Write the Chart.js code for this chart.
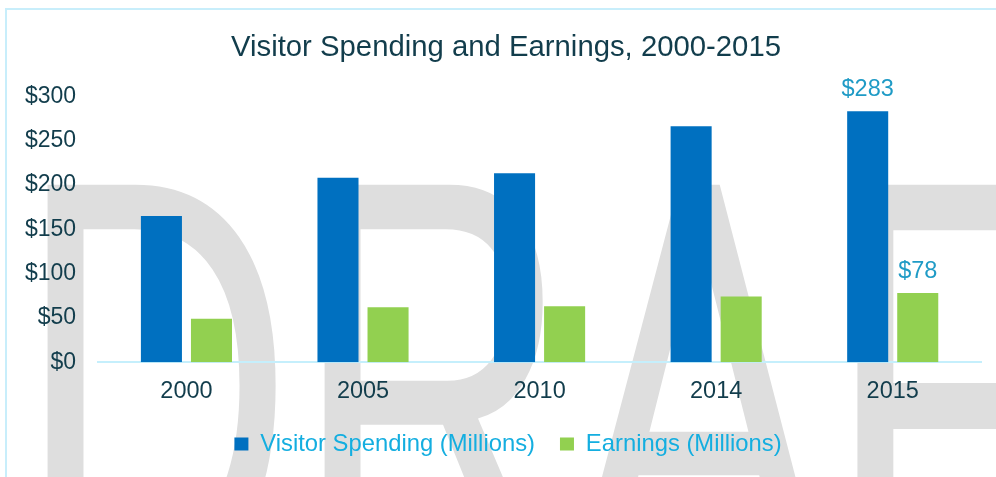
<!DOCTYPE html>
<html>
<head>
<meta charset="utf-8">
<title>Visitor Spending and Earnings, 2000-2015</title>
<script src="https://cdn.jsdelivr.net/npm/chart.js@4.4.1/dist/chart.umd.min.js"></script>
<style>
    html, body { margin: 0; padding: 0; width: 996px; height: 477px; overflow: hidden; background: #fff; }
    #frame { position: absolute; left: 5px; top: 8px; width: 1200px; height: 800px; border: 2px solid #c8eefb; box-sizing: border-box; }
    #watermark {
        position: absolute; left: 16px; top: 90px;
        font-family: "Liberation Sans", Arial, sans-serif; font-size: 385px; line-height: 1;
        color: #dedede; white-space: nowrap; letter-spacing: -1px;
        transform: scaleY(1.55); transform-origin: 0 0;
    }
    #chartBox { position: absolute; left: 0; top: 0; width: 996px; height: 477px; }
</style>
</head>
<body>
<div id="frame"></div>
<div id="watermark">DRAFT</div>
<div id="chartBox"><canvas id="spendingChart" width="996" height="477"></canvas></div>
<script>
// Chart data (values in millions of dollars)
const years = ['2000', '2005', '2010', '2014', '2015'];
const visitorSpending = [165, 208, 213, 266, 283];
const earnings = [49, 62, 63, 74, 78];
const yTicks = [0, 50, 100, 150, 200, 250, 300];
// only the 2015 bars carry a value label
const labelledPoints = [4];

const FONT = '"Liberation Sans", Arial, sans-serif';
const DARK = '#123d4c';

// Draw "$value" above the labelled bars
const valueLabels = {
    id: 'valueLabels',
    afterLayout(chart) {
        // title and legend sit a little right of centre in the original
        chart.titleBlock.left += 14;
        chart.titleBlock.right += 14;
        chart.legend.left += 16;
        chart.legend.right += 16;
    },
    afterDatasetsDraw(chart) {
        const ctx = chart.ctx;
        ctx.save();
        ctx.font = '23.5px ' + FONT;
        ctx.fillStyle = '#1f9bc6';
        ctx.textAlign = 'center';
        ctx.textBaseline = 'alphabetic';
        chart.data.datasets.forEach((ds, i) => {
            const meta = chart.getDatasetMeta(i);
            labelledPoints.forEach(idx => {
                const bar = meta.data[idx];
                ctx.fillText('$' + ds.data[idx], bar.x, bar.y - 15);
            });
        });
        ctx.restore();
    }
};

const ctx = document.getElementById('spendingChart').getContext('2d');
window.spendingChart = new Chart(ctx, {
    type: 'bar',
    data: {
        labels: years,
        datasets: [{
            label: 'Visitor Spending (Millions)',
            data: visitorSpending,
            backgroundColor: '#0070c0',
            borderWidth: 0,
            categoryPercentage: 0.567,
            barPercentage: 0.82
        }, {
            label: 'Earnings (Millions)',
            data: earnings,
            backgroundColor: '#92d050',
            borderWidth: 0,
            categoryPercentage: 0.567,
            barPercentage: 0.82
        }]
    },
    options: {
        responsive: false,
        animation: false,
        layout: {
            padding: { left: 3, right: 15, top: 0, bottom: 11 }
        },
        scales: {
            x: {
                grid: { display: false, drawTicks: false },
                border: { display: true, color: '#c5effc', width: 2 },
                ticks: {
                    color: DARK,
                    font: { family: FONT, size: 23.5 },
                    padding: 15
                },
                afterFit: function(scale) {
                    // only one padding below the labels
                    scale.height = 45;
                }
            },
            y: {
                min: 0,
                max: 300,
                grid: { display: false, drawTicks: false },
                border: { display: false },
                afterBuildTicks: function(scale) {
                    scale.ticks = yTicks.map(v => ({ value: v }));
                },
                ticks: {
                    color: DARK,
                    font: { family: FONT, size: 23 },
                    padding: 22,
                    callback: function(value) {
                        return '$' + value;
                    }
                }
            }
        },
        plugins: {
            title: {
                display: true,
                text: 'Visitor Spending and Earnings, 2000-2015',
                color: DARK,
                font: { family: FONT, size: 29.3, weight: 'normal' },
                padding: { top: 30, bottom: 31 }
            },
            legend: {
                position: 'bottom',
                labels: {
                    boxWidth: 14,
                    boxHeight: 13,
                    color: '#14aee0',
                    padding: 25,
                    font: { family: FONT, size: 23.8 }
                }
            },
            tooltip: { enabled: false }
        }
    },
    plugins: [valueLabels]
});
</script>
</body>
</html>
